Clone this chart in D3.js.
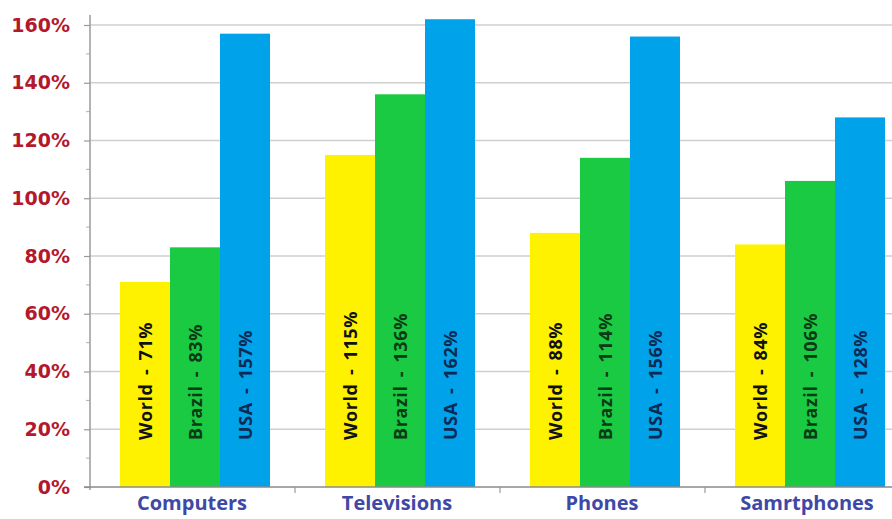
<!DOCTYPE html>
<html><head><meta charset="utf-8">
<script src="https://cdn.jsdelivr.net/npm/d3@7"></script>
<style>html,body{margin:0;padding:0;background:#fff;overflow:hidden}</style>
</head><body><svg id="c" width="892" height="519"></svg>
<script>
const categories = ["Computers", "Televisions", "Phones", "Samrtphones"];
const series = ["World", "Brazil", "USA"];
const world = [71, 115, 88, 84];
const brazil = [83, 136, 114, 106];
const usa = [157, 162, 156, 128];
const yTicks = [0, 20, 40, 60, 80, 100, 120, 140, 160];
const colors = {World: "#fff200", Brazil: "#19ca42", USA: "#00a3ea"};
const textColors = {World: "#111111", Brazil: "#0c3a16", USA: "#0b2a55"};

const valuesBySeries = {World: world, Brazil: brazil, USA: usa};
const svg = d3.select("#c");

const x0 = d3.scaleBand().domain(categories).range([90, 910]).paddingInner(0).paddingOuter(0);
const x1 = d3.scaleBand().domain(series).range([30, 180]).padding(0);
const y = d3.scaleLinear().domain([0, 160]).range([487, 25]);

// gridlines
svg.append("g").selectAll("line").data(yTicks.filter(d => d > 0)).join("line")
  .attr("x1", 90).attr("x2", 892)
  .attr("y1", d => y(d)).attr("y2", d => y(d))
  .attr("stroke", "#cfcfcf").attr("stroke-width", 1.5);

// y axis
const yAxis = d3.axisLeft(y).tickValues(yTicks).tickSize(6).tickFormat(d => d + "%");
const ga = svg.append("g").attr("transform", "translate(90,0)").call(yAxis);
ga.select(".domain").remove();
ga.selectAll(".tick line").attr("stroke", "#9a9a9a").attr("stroke-width", 1.2);
ga.selectAll(".tick text").attr("x", -20).attr("fill", "#b3182c")
  .attr("font-family", "DejaVu Sans").attr("font-weight", "bold").attr("font-size", "19px");
// minor ticks
const minor = d3.range(10, 160, 20);
svg.append("g").selectAll("line").data(minor).join("line")
  .attr("x1", 86).attr("x2", 90).attr("y1", d => y(d)).attr("y2", d => y(d))
  .attr("stroke", "#b0b0b0").attr("stroke-width", 1);
svg.append("line").attr("x1", 90).attr("x2", 90).attr("y1", 15).attr("y2", 490)
  .attr("stroke", "#9a9a9a").attr("stroke-width", 1.5);

// bars
const rows = categories.map((c, i) => ({c, vals: series.map(s => ({s, v: valuesBySeries[s][i]}))}));
const groups = svg.append("g").selectAll("g").data(rows).join("g")
  .attr("transform", d => `translate(${x0(d.c)},0)`);
groups.selectAll("rect").data(d => d.vals).join("rect")
  .attr("x", d => x1(d.s)).attr("width", x1.bandwidth())
  .attr("y", d => y(d.v)).attr("height", d => y(0) - y(d.v))
  .attr("fill", d => colors[d.s]);
groups.selectAll("text").data(d => d.vals).join("text")
  .attr("transform", d => `translate(${x1(d.s) + x1.bandwidth() / 2 + 7},440) rotate(-90)`)
  .attr("text-anchor", "start")
  .attr("fill", d => textColors[d.s])
  .attr("font-family", "'Open Sans'").attr("font-weight", "bold").attr("font-size", "18px")
  .attr("letter-spacing", "0.6px").attr("word-spacing", "3px")
  .text(d => `${d.s} - ${d.v}%`);

// x axis
const xAxis = d3.axisBottom(x0).tickSize(0).tickFormat(d => d);
const gx = svg.append("g").attr("transform", "translate(0,487)").call(xAxis);
gx.select(".domain").remove();
gx.selectAll(".tick text")
  .attr("x", d => x1.range()[0] + (x1.range()[1] - x1.range()[0]) / 2 - x0.bandwidth() / 2 - 3)
  .attr("y", 23).attr("dy", 0)
  .attr("fill", "#3e48a6").attr("font-family", "'Open Sans'").attr("font-weight", "bold").attr("font-size", "20px");
svg.append("line").attr("x1", 84).attr("x2", 892).attr("y1", 487).attr("y2", 487)
  .attr("stroke", "#8a8a8a").attr("stroke-width", 1.5);
svg.append("g").selectAll("line").data(categories.slice(1)).join("line")
  .attr("x1", d => x0(d)).attr("x2", d => x0(d)).attr("y1", 487).attr("y2", 493)
  .attr("stroke", "#9a9a9a").attr("stroke-width", 1.2);
</script></body></html>
